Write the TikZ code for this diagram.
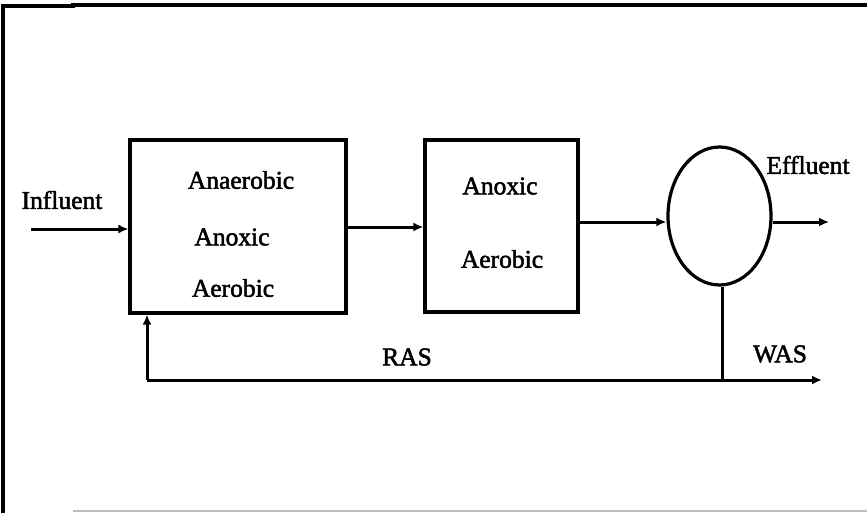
\documentclass[tikz,border=0pt]{standalone}
\usepackage{fontspec}
\setmainfont{Liberation Serif}
\newfontfamily\lblfont[FakeBold=2]{Liberation Serif}
\usetikzlibrary{shapes.geometric,arrows.meta}
\begin{document}
\begin{tikzpicture}[x=1pt,y=-1pt,
  lbl/.style={font=\lblfont\fontsize{25.5}{27}\selectfont, inner sep=0pt},
  tank/.style={draw, line width=3.2pt, inner sep=0pt},
  flow/.style={line width=3pt, -{Latex[length=10pt,width=9pt]}},
  pipe/.style={line width=3pt}]
\useasboundingbox (0,0) rectangle (867,513);
% frame
\draw[line width=3.5pt] (3,513) -- (3,6) -- (73,6) -- (73,5) -- (867,5);
\draw[line width=1.5pt, gray!50] (73,511) -- (867,511);
% tanks
\node[tank, minimum width=216, minimum height=173] (b1) at (238,226.5) {};
\node[tank, minimum width=153, minimum height=172] (b2) at (501.5,226) {};
\node[tank, ellipse, minimum width=103, minimum height=138] (cl) at (719.5,216) {};
% labels
\node[lbl] (t1) at (241,180) {Anaerobic};
\node[lbl] (t2) at (232,237) {Anoxic};
\node[lbl] (t3) at (233,288) {Aerobic};
\node[lbl] (t4) at (500,186) {Anoxic};
\node[lbl] (t5) at (502,259) {Aerobic};
\node[lbl] (inf) at (62,200) {Influent};
\node[lbl] (eff) at (808,165) {Effluent};
\node[lbl] (ras) at (407,357) {RAS};
\node[lbl] (was) at (780,354) {WAS};
% coordinates
\coordinate (inS) at (31,229);
\coordinate (effE) at (829,222);
\coordinate (wasJ) at (722,380);
\coordinate (wasE) at (822,380);
\coordinate (rasC) at (147,380);
% connectors
\draw[flow] (inS) -- (inS -| b1.west);
\draw[flow] (b1.east |- 0,227) -- (b2.west |- 0,227);
\draw[flow] (b2.east |- 0,222) -- (cl.west |- 0,222);
\draw[flow] (cl.east |- 0,222) -- (effE);
\draw[pipe] (cl.south -| wasJ) -- (wasJ);
\draw[flow] (rasC) -- (wasE);
\draw[flow] (rasC) -- (rasC |- b1.south);
\end{tikzpicture}
\end{document}
